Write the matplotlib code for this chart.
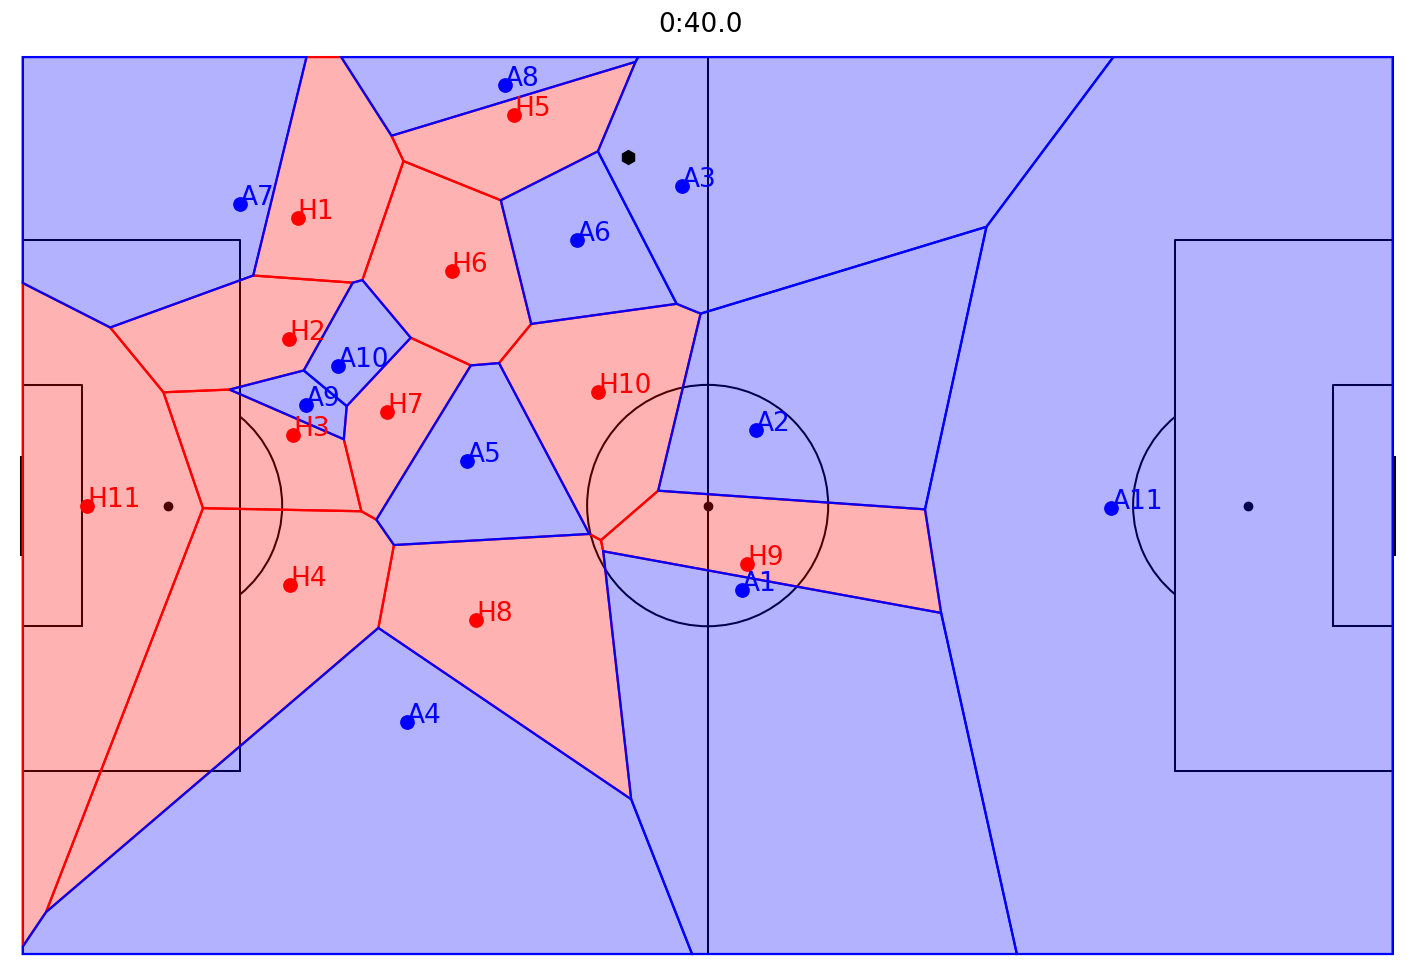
import matplotlib
matplotlib.use("Agg")
import matplotlib.pyplot as plt
from matplotlib.patches import Polygon, Circle, Arc, Rectangle
import numpy as np

# posiciones de los jugadores (metros, origen en el centro del campo)
home_names = ['H1', 'H2', 'H3', 'H4', 'H5', 'H6', 'H7', 'H8', 'H9', 'H10', 'H11']
home_x = [-31.11, -31.77, -31.47, -31.69, -14.68, -19.44, -24.35, -17.57, 2.98, -8.31, -47.11]
home_y = [21.81, 12.63, 5.34, -6.00, 29.61, 17.77, 7.08, -8.66, -4.46, 8.60, 0.00]

away_names = ['A1', 'A2', 'A3', 'A4', 'A5', 'A6', 'A7', 'A8', 'A9', 'A10', 'A11']
away_x = [2.63, 3.69, -1.93, -22.81, -18.25, -9.90, -35.49, -15.37, -30.48, -28.05, 30.65]
away_y = [-6.38, 5.72, 24.24, -16.40, 3.34, 20.12, 22.88, 31.89, 7.62, 10.55, -0.15]

ball_x, ball_y = -6.03, 26.42
tiempo = '0:40.0'

field_len, field_wid = 104.0, 68.0


def recortar(poly, a, b):
    # deja los puntos que cumplen a . p <= b
    out = []
    n = len(poly)
    for i in range(n):
        p = poly[i]
        q = poly[(i + 1) % n]
        fp = a @ p - b
        fq = a @ q - b
        if fp <= 0:
            out.append(p)
        if fp * fq < 0:
            t = fp / (fp - fq)
            out.append(p + t * (q - p))
    return out


def celda_voronoi(i, pts):
    hx, hy = field_len / 2, field_wid / 2
    poly = [np.array(v) for v in [(-hx, -hy), (hx, -hy), (hx, hy), (-hx, hy)]]
    pi = pts[i]
    for j, pj in enumerate(pts):
        if j == i:
            continue
        a = pj - pi
        b = (pj @ pj - pi @ pi) / 2
        poly = recortar(poly, a, b)
    return np.array(poly)


fig = plt.figure(figsize=(14.15, 9.79), dpi=100)
ax = fig.add_axes([0.00671, 0.01103, 0.98678, 0.94310])
ax.set_xlim(-53, 53)
ax.set_ylim(-35, 35)
ax.axis('off')

# campo
lw = 1.45
hx, hy = field_len / 2, field_wid / 2
ax.add_patch(Rectangle((-hx, -hy), field_len, field_wid, fill=False, color='black', lw=lw, zorder=1))
ax.plot([0, 0], [-hy, hy], color='black', lw=lw, zorder=1)
ax.add_patch(Circle((0, 0), 9.15, fill=False, color='black', lw=lw, zorder=1))
ax.plot(0, 0, 'o', color='black', markersize=6, zorder=1)
for s in [-1, 1]:
    gx = s * hx
    ax.plot([gx - s * 16.5, gx - s * 16.5, gx], [-20.16, 20.16, 20.16], color='black', lw=lw, zorder=1)
    ax.plot([gx - s * 16.5, gx], [-20.16, -20.16], color='black', lw=lw, zorder=1)
    ax.plot([gx - s * 4.5, gx - s * 4.5, gx], [-9.16, 9.16, 9.16], color='black', lw=lw, zorder=1)
    ax.plot([gx - s * 4.5, gx], [-9.16, -9.16], color='black', lw=lw, zorder=1)
    spot = gx - s * 11
    ax.plot(spot, 0, 'o', color='black', markersize=6, zorder=1)
    ang = np.degrees(np.arccos(5.5 / 8.7))
    if s < 0:
        ax.add_patch(Arc((spot, 0), 17.4, 17.4, theta1=-ang, theta2=ang, color='black', lw=lw, zorder=1))
    else:
        ax.add_patch(Arc((spot, 0), 17.4, 17.4, theta1=180 - ang, theta2=180 + ang, color='black', lw=lw, zorder=1))
    ax.plot([gx + s * 0.1, gx + s * 0.1], [-3.66, 3.66], color='black', lw=2.2, zorder=1, clip_on=False)

# celdas de Voronoi
pts = np.array(list(zip(home_x + away_x, home_y + away_y)))
n_home = len(home_x)
for i in range(len(pts)):
    c = 'r' if i < n_home else 'b'
    rgba = (1, 0, 0, 0.3) if i < n_home else (0, 0, 1, 0.3)
    cel = celda_voronoi(i, pts)
    ax.add_patch(Polygon(cel, closed=True, facecolor=rgba, edgecolor=c, lw=1.6, zorder=2))

# jugadores
ax.plot(home_x, home_y, 'o', color='r', markersize=9.6, zorder=3)
ax.plot(away_x, away_y, 'o', color='b', markersize=9.6, zorder=3)
for x, y, t in zip(home_x, home_y, home_names):
    ax.text(x, y, t, color='r', fontsize=19, zorder=4)
for x, y, t in zip(away_x, away_y, away_names):
    ax.text(x, y, t, color='b', fontsize=19, zorder=4)

ax.plot(ball_x, ball_y, 'h', color='black', markersize=10, zorder=3)

fig.text(700 / 1415, 1 - 31.7 / 979, tiempo, ha='center', va='baseline', fontsize=19)

fig.savefig('out.png', dpi=100)
